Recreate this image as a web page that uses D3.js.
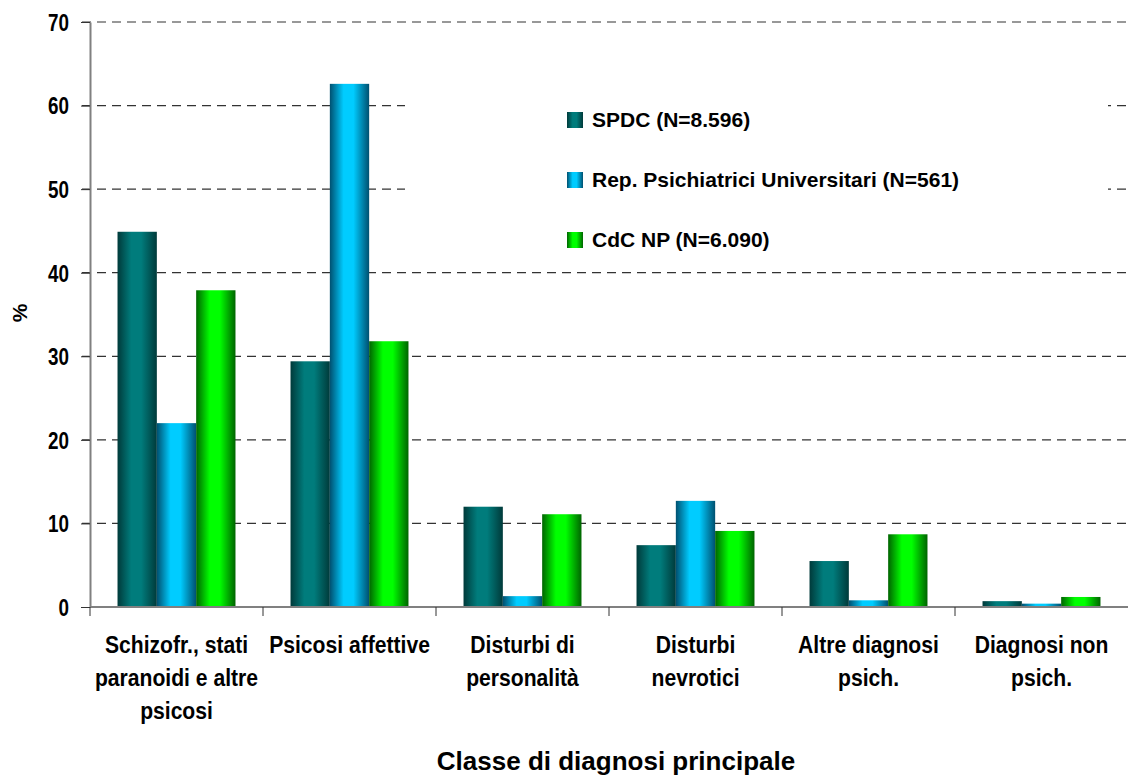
<!DOCTYPE html>
<html>
<head>
	<title>Classe di diagnosi principale</title>
	<script src="https://cdn.jsdelivr.net/npm/d3@7"></script>
</head>
<style type="text/css">
	body {margin:0; background:#fff;}
	text {font-family:"Liberation Sans", Arial, sans-serif; font-weight:bold; fill:#000;}
</style>
<body>
</body>
</html>
<script type="text/javascript">
	var categories = [["Schizofr., stati", "paranoidi e altre", "psicosi"], ["Psicosi affettive"], ["Disturbi di", "personalità"], ["Disturbi", "nevrotici"], ["Altre diagnosi", "psich."], ["Diagnosi non", "psich."]];
	var series = ["SPDC (N=8.596)", "Rep. Psichiatrici Universitari (N=561)", "CdC NP (N=6.090)"];
	var spdc = [44.9, 29.4, 12.0, 7.4, 5.5, 0.7];
	var univ = [22.0, 62.6, 1.3, 12.7, 0.8, 0.4];
	var cdc = [37.9, 31.8, 11.1, 9.1, 8.7, 1.2];
	var yTicks = [0, 10, 20, 30, 40, 50, 60, 70];
	var colors = [["#003a3a", "#007c7c"], ["#005070", "#00ccff"], ["#006400", "#00ff00"]];

	var width = 1134, height = 776;
	var margin = {left:90, right:6, top:22, bottom:169};
	var w = width - margin.left - margin.right;
	var h = height - margin.top - margin.bottom;
	var values = [spdc, univ, cdc];
	var narrow = 0.82; // condensed look of the tick labels
	var narrowCat = 0.88;

	var svg = d3.select("body").append("svg").attr("width", width).attr("height", height);
	var defs = svg.append("defs");
	colors.forEach(function(c, i) {
		var gr = defs.append("linearGradient").attr("id", "grad" + i).attr("x1", "0%").attr("x2", "100%").attr("y1", "0%").attr("y2", "0%");
		gr.append("stop").attr("offset", "0%").attr("stop-color", c[0]);
		gr.append("stop").attr("offset", "35%").attr("stop-color", c[1]);
		gr.append("stop").attr("offset", "60%").attr("stop-color", c[1]);
		gr.append("stop").attr("offset", "100%").attr("stop-color", c[0]);
	});

	var keys = categories.map(function(d, i) {return "c" + i;});
	var x0 = d3.scaleBand().domain(keys).range([0, w]).padding(0);
	var x1 = d3.scaleBand().domain(series).range([0, x0.bandwidth()]).paddingInner(0).paddingOuter(0.7);
	var y = d3.scaleLinear().domain([0, 70]).range([h, 0]);

	var g = svg.append("g").attr("transform", "translate(" + margin.left + "," + margin.top + ")");

	// gridlines
	g.selectAll(".grid").data(yTicks.filter(function(d) {return d > 0;})).enter().append("line")
		.attr("x1", -8).attr("x2", w).attr("y1", function(d) {return y(d);}).attr("y2", function(d) {return y(d);})
		.attr("stroke", "#333").attr("stroke-width", 1.2).attr("stroke-dasharray", "9,6");

	// bars
	var groups = g.selectAll(".grp").data(categories).enter().append("g")
		.attr("transform", function(d, i) {return "translate(" + x0(keys[i]) + ",0)";});
	groups.selectAll("rect").data(function(d, i) {return values.map(function(v, s) {return {s:s, v:v[i]};});}).enter().append("rect")
		.attr("x", function(d) {return x1(series[d.s]);})
		.attr("width", x1.bandwidth())
		.attr("y", function(d) {return y(d.v);})
		.attr("height", function(d) {return h - y(d.v);})
		.attr("fill", function(d) {return "url(#grad" + d.s + ")";});

	// legend box
	var lg = g.append("g").attr("transform", "translate(" + (405 - margin.left) + "," + (62 - margin.top) + ")");
	lg.append("rect").attr("width", 703).attr("height", 196).attr("fill", "#fff");
	series.forEach(function(s, i) {
		var row = lg.append("g").attr("transform", "translate(162," + (50 + i * 60) + ")");
		row.append("rect").attr("width", 16).attr("height", 16).attr("fill", "url(#grad" + i + ")");
		row.append("text").attr("x", 25).attr("y", 15).style("font-size", "21px").text(s);
	});

	// y axis
	var ya = g.append("g").call(d3.axisLeft(y).tickValues(yTicks).tickSize(9).tickSizeOuter(0).tickPadding(12));
	ya.select(".domain").attr("stroke", "#808080").attr("stroke-width", 2);
	ya.selectAll(".tick line").attr("stroke", "#333");
	ya.selectAll(".tick text").style("font-size", "23px").attr("dy", "0.36em").attr("fill", "#000")
		.attr("x", -21 / narrow).attr("transform", "scale(" + narrow + ",1)");

	// x axis
	var xa = g.append("g").attr("transform", "translate(0," + h + ")");
	xa.append("line").attr("x1", 0).attr("x2", w).attr("stroke", "#808080").attr("stroke-width", 2);
	xa.selectAll(".xt").data(keys).enter().append("line")
		.attr("x1", function(d) {return x0(d);}).attr("x2", function(d) {return x0(d);})
		.attr("y1", 0).attr("y2", 9).attr("stroke", "#333");
	xa.selectAll(".xl").data(categories).enter().append("text")
		.attr("text-anchor", "middle")
		.style("font-size", "24px")
		.attr("transform", function(d, i) {return "translate(" + (x0(keys[i]) + x0.bandwidth() / 2) + ",46) scale(" + narrowCat + ",1)";})
		.selectAll("tspan").data(function(d) {return d;}).enter().append("tspan")
		.attr("x", 0).attr("y", function(d, i) {return i * 33;}).text(function(d) {return d;});

	// axis titles
	svg.append("text").attr("x", 616).attr("y", 770).attr("text-anchor", "middle")
		.style("font-size", "26px").text("Classe di diagnosi principale");
	svg.append("text").attr("transform", "translate(27,313) rotate(-90)").attr("text-anchor", "middle")
		.style("font-size", "21px").text("%");
</script>
